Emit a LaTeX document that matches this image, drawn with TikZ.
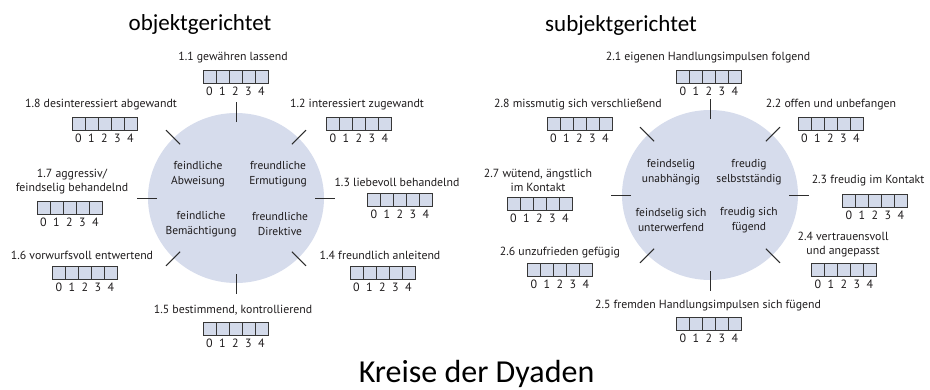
\documentclass[tikz,border=0pt]{standalone}
\usepackage{fontspec}
\setmainfont{PT Sans}
\newfontfamily\titlefont{Carlito}
\usetikzlibrary{shapes.geometric}

\definecolor{circfill}{RGB}{214,220,236}
\definecolor{boxfill}{RGB}{211,218,234}
\definecolor{boxline}{RGB}{55,55,55}
\definecolor{ink}{RGB}{30,27,28}
\definecolor{tickc}{RGB}{45,45,45}

\tikzset{
  disc/.style={ellipse, fill=circfill, draw=none, minimum width=176pt, minimum height=170pt, inner sep=0},
  tickline/.style={draw=tickc, line width=1pt},
  cell/.style={rectangle, draw=boxline, fill=boxfill, line width=0.9pt, minimum size=13pt, inner sep=0},
  lbl/.style={font=\fontsize{11.8}{14}\selectfont, text=ink, align=center, inner sep=0},
  digit/.style={font=\fontsize{12}{12}\selectfont, text=ink, inner sep=0},
  quad/.style={font=\fontsize{11.5}{15}\selectfont, text=ink, align=center, inner sep=0},
  heading/.style={font=\titlefont\fontsize{23}{27}\selectfont, text=black, inner sep=0, anchor=base},
}

% #1 name, #2 x of box centre, #3 top of box, #4 x of label, #5 y of label, #6 label text
\newcommand{\ratingscale}[6]{%
  \node[lbl] (#1-lbl) at (#4,#5) {#6};
  \foreach \k in {0,...,4} {
    \node[cell] (#1-c\k) at ({#2+(\k-2)*13},{#3+6.5}) {};
    \node[digit] (#1-d\k) at ({#2+(\k-2)*13},{#3+21}) {\k};
  }%
}

% #1 centre node, #2 angle
\newcommand{\radialtick}[2]{%
  \draw[tickline] ([shift={(#2:79 and 76)}]#1.center) -- ([shift={(#2:99 and 96)}]#1.center);%
}

\begin{document}
\begin{tikzpicture}[x=1pt, y=-1pt]
  \useasboundingbox (0,0) rectangle (930,389);

  % headings
  \node[heading] (tobj) at (200,30) {objektgerichtet};
  \node[heading] (tsubj) at (621,31) {subjektgerichtet};
  \node[font=\titlefont\fontsize{32}{36}\selectfont, inner sep=0, anchor=base] (caption) at (476.5,382) {Kreise der Dyaden};

  % object-directed circle
  \node[disc] (L) at (236,198) {};
  \foreach \a in {0,45,...,315} { \radialtick{L}{\a} }
  \node[quad] (L-q1) at (198,174) {feindliche\\Abweisung};
  \node[quad] (L-q2) at (278,174) {freundliche\\Ermutigung};
  \node[quad] (L-q3) at (201,224) {feindliche\\Bemächtigung};
  \node[quad] (L-q4) at (280,224) {freundliche\\Direktive};

  \ratingscale{a1}{235.5}{70}{233}{58}{1.1 gewähren lassend}
  \ratingscale{a2}{359}{117}{357}{105}{1.2 interessiert zugewandt}
  \ratingscale{a3}{400}{193}{397}{182}{1.3 liebevoll behandelnd}
  \ratingscale{a4}{382.5}{266}{380}{255}{1.4 freundlich anleitend}
  \ratingscale{a5}{235.5}{322}{233}{310}{1.5 bestimmend, kontrollierend}
  \ratingscale{a6}{85}{266}{82}{255}{1.6 vorwurfsvoll entwertend}
  \ratingscale{a7}{69.5}{201}{72}{182}{1.7 aggressiv/\\feindselig behandelnd}
  \ratingscale{a8}{104.5}{117}{101}{105}{1.8 desinteressiert abgewandt}

  % subject-directed circle
  \node[disc] (R) at (710,195) {};
  \foreach \a in {0,45,...,315} { \radialtick{R}{\a} }
  \node[quad] (R-q1) at (671,172) {feindselig\\unabhängig};
  \node[quad] (R-q2) at (749,172) {freudig\\selbstständig};
  \node[quad] (R-q3) at (671,220) {feindselig sich\\unterwerfend};
  \node[quad] (R-q4) at (749,220) {freudig sich\\fügend};

  \ratingscale{b1}{709}{70}{708}{58}{2.1 eigenen Handlungsimpulsen folgend}
  \ratingscale{b2}{830.5}{117}{831}{105}{2.2 offen und unbefangen}
  \ratingscale{b3}{875}{194}{868}{181}{2.3 freudig im Kontakt}
  \ratingscale{b4}{844}{263}{843}{245}{2.4 vertrauensvoll\\und angepasst}
  \ratingscale{b5}{709}{317}{708}{306}{2.5 fremden Handlungsimpulsen sich fügend}
  \ratingscale{b6}{560}{263}{560}{253}{2.6 unzufrieden gefügig}
  \ratingscale{b7}{539.5}{197}{538}{180}{2.7 wütend, ängstlich\\im Kontakt}
  \ratingscale{b8}{579.5}{117}{578}{105}{2.8 missmutig sich verschließend}
\end{tikzpicture}
\end{document}
